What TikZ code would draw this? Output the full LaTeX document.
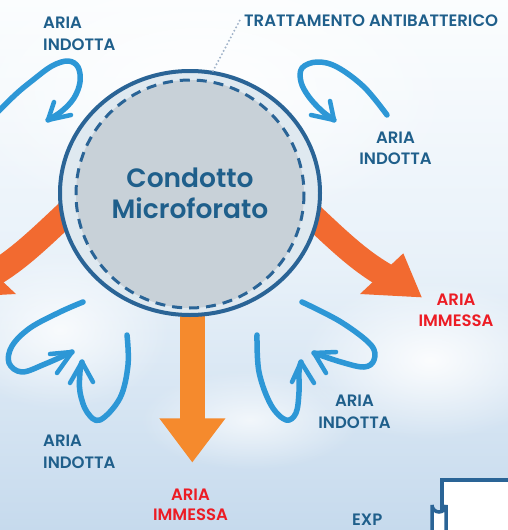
\documentclass[tikz,border=0pt]{standalone}
\usepackage{fontspec}
\setmainfont{Poppins}[BoldFont={Poppins SemiBold}]
\usetikzlibrary{fadings}
\definecolor{txtblue}{HTML}{1F5F8B}
\definecolor{txtred}{HTML}{EC1C24}
\definecolor{arrblue}{HTML}{2D97D6}
\definecolor{orangeA}{HTML}{F26A30}
\definecolor{orangeB}{HTML}{F58A2D}
\definecolor{ringdark}{HTML}{2A6496}
\definecolor{ringlight}{HTML}{DFE9F0}
\definecolor{coregray}{HTML}{C8D1D8}
\definecolor{skytop}{HTML}{FBFDFE}
\definecolor{skymid}{HTML}{E8F1F9}
\definecolor{skybot}{HTML}{C6DAED}
\definecolor{leader}{HTML}{A0B3C9}
\tikzfading[name=cloudfade, inner color=transparent!0, outer color=transparent!100]
\tikzset{
  bluearr/.style={draw=arrblue, line width=5.5pt, line cap=round, line join=round},
  barb/.style={draw=arrblue, line width=4.5pt, line cap=round, line join=round},
  lbl/.style={font=\bfseries\fontsize{16.5}{20}\selectfont, text=txtblue, inner sep=0pt},
  lblred/.style={font=\bfseries\fontsize{16.5}{20}\selectfont, text=txtred, inner sep=0pt},
}
\begin{document}
\begin{tikzpicture}[x=1pt,y=-1pt]
\useasboundingbox (0,0) rectangle (508,530);
% sky
\shade[top color=skytop, bottom color=skybot, middle color=skymid] (0,0) rectangle (508,530);
\fill[white, path fading=cloudfade, opacity=0.9] (430,360) ellipse (130 and 80);
\fill[white, path fading=cloudfade, opacity=0.7] (250,420) ellipse (110 and 50);
\fill[white, path fading=cloudfade, opacity=0.8] (60,330) ellipse (110 and 80);
\fill[white, path fading=cloudfade, opacity=0.9] (200,90) ellipse (260 and 140);

% orange arrows (behind circle)
\draw[orangeA, line width=25pt] (290,195) .. controls (335,237) and (355,258) .. (386,276);
\fill[orangeA] (403.3,253.3) -- (421.7,297.3) -- (360,294) -- cycle;
\draw[orangeA, line width=25pt] (86,195) .. controls (41,237) and (21,258) .. (-10,276);
\fill[orangeA] (-27.3,253.3) -- (-45.7,297.3) -- (16,294) -- cycle;
\fill[orangeB] (180,290) rectangle (205,419);
\fill[orangeB] (159.3,418.3) -- (225.5,418.3) -- (192.3,462.3) -- cycle;

% duct
\coordinate (c) at (190,193);
\filldraw[fill=ringlight, draw=ringdark, line width=4pt] (c) ellipse (130 and 122);
\fill[coregray] (190,194) circle (114);
\draw[ringdark, line width=3pt, dash pattern=on 10pt off 7pt] (190,194) circle (114);
\node[font=\bfseries\fontsize{26.5}{32}\selectfont, text=txtblue, inner sep=0pt, anchor=base] (t1) at (190,187) {Condotto};
\node[font=\bfseries\fontsize{26.5}{32}\selectfont, text=txtblue, inner sep=0pt, anchor=base] (t2) at (190,218.5) {Microforato};

% leader
\coordinate (la) at (213,71);
\coordinate (lb) at (240,20);
\draw[leader, line width=2.2pt, line cap=round, dash pattern=on 0pt off 3.8pt] (la) -- (lb);
\node[lbl, anchor=base west] (tt) at (244,26) {TRATTAMENTO ANTIBATTERICO};

% blue induced-air arrows
% top-left
\draw[bluearr] plot[smooth, tension=0.6] coordinates {(-8,118) (15,95) (33,80) (52,66) (68,61) (78,67) (80,82) (74,98) (62,111) (48,120)};
\draw[barb] (54,102) -- (48,120) -- (71,115);
% top-right
\draw[bluearr] plot[smooth, tension=0.6] coordinates {(387,115) (364,87) (337,67) (317,62) (302,68) (301,82) (309,97) (322,111) (334,120)};
\draw[barb] (330,101) -- (334,120) -- (311,115);
% bottom-left loop
\draw[bluearr] plot[smooth, tension=0.6] coordinates {(83,302) (60,312) (30,328) (12,346) (9,363) (22,372) (45,364) (72,352)};
\draw[barb] (50,354) -- (72,352) -- (57,373);
% bottom-left U
\draw[bluearr] plot[smooth, tension=0.6] coordinates {(127,335) (128,365) (120,398) (100,420) (87,412) (80,392) (80,372) (82,362)};
\draw[barb] (70,383) -- (82,362) -- (93,382);
% bottom-right U
\draw[bluearr] plot[smooth, tension=0.6] coordinates {(257,335) (259,372) (271,405) (286,420) (296,413) (299,392) (299,372) (301,362)};
\draw[barb] (292,382) -- (301,362) -- (314,383);
% bottom-right loop
\draw[bluearr] plot[smooth, tension=0.6] coordinates {(302,302) (341,322) (371,345) (374,360) (364,367) (341,362) (314,353)};
\draw[barb] (336,352) -- (314,353) -- (326,373);

% labels
\node[lbl, anchor=base west] (tl1) at (43,28.3) {ARIA};
\node[lbl, anchor=base west] (tl2) at (43,50.7) {INDOTTA};
\node[lbl, anchor=base] (tr1) at (395.5,143) {ARIA};
\node[lbl, anchor=base] (tr2) at (395.5,164.5) {INDOTTA};
\node[lbl, anchor=base west] (bl1) at (43,446.7) {ARIA};
\node[lbl, anchor=base west] (bl2) at (43,468.3) {INDOTTA};
\node[lbl, anchor=base] (br1) at (354.5,406.7) {ARIA};
\node[lbl, anchor=base] (br2) at (354.5,428) {INDOTTA};
\node[lblred, anchor=base] (bm1) at (190.5,500) {ARIA};
\node[lblred, anchor=base] (bm2) at (190.5,520.5) {IMMESSA};
\node[lblred, anchor=base] (rm1) at (456,305.7) {ARIA};
\node[lblred, anchor=base] (rm2) at (456,326.7) {IMMESSA};
\node[lbl, anchor=base west, text depth=0pt] (exp) at (352,525) {EXP};

% device at bottom right
\fill[white] (442,480) rectangle (515,535);
\draw[ringdark, line width=3.5pt] (442,540) -- (442,480) -- (515,480);
\filldraw[fill=white, draw=ringdark, line width=3.5pt] (432,540) -- (432,505) arc[start angle=180, end angle=0, radius=7] -- (446,540);
\end{tikzpicture}
\end{document}
